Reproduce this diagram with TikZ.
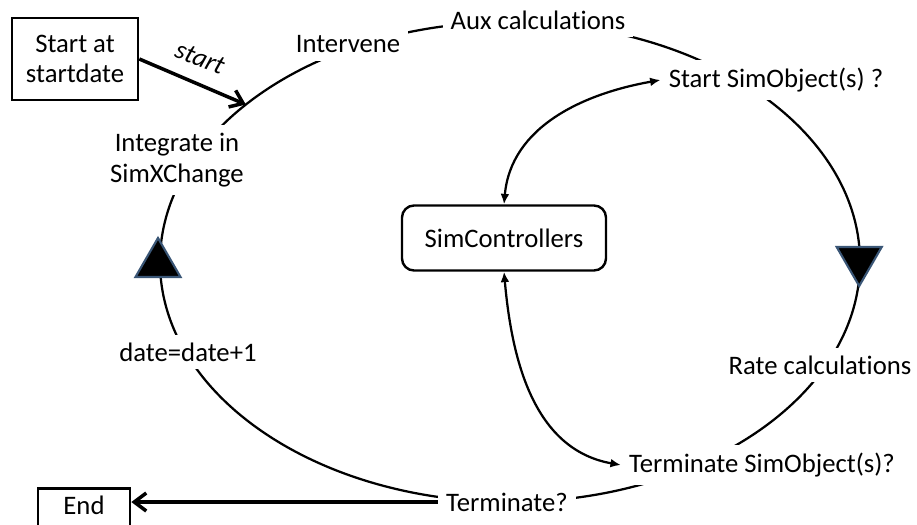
\documentclass[tikz,border=0pt]{standalone}
\usepackage{fontspec}
\setmainfont{Carlito}[Ligatures=NoCommon]
\usepackage{tikz}
\usetikzlibrary{shapes.geometric,positioning,calc}
\usetikzlibrary{arrows.meta}
\definecolor{triblue}{RGB}{58,86,118}

\begin{document}
\begin{tikzpicture}[>={Latex[length=2.6mm,width=2.2mm]}, font=\fontsize{19}{21.5}\selectfont, looptext/.style={fill=white, inner sep=0.2cm, align=center}, box/.style={draw, line width=1.9pt, align=center}, cycle/.style={line width=1.6pt}, heavy/.style={line width=2.5pt, -{Straight Barb[length=3mm,width=4.5mm]}}, marker/.style={regular polygon, regular polygon sides=3, fill=black, draw=triblue, line width=1.5pt, minimum size=1.3cm, inner sep=0pt}]
				\useasboundingbox (0,0) rectangle (22.925,-13.1);

				% Loop

				\coordinate (c) at (12.75,-6.55);
				\draw[cycle] (c) ellipse (8.75 and 6);
				\coordinate (hit) at ($ (c) +(139:8.75 and 6) $);

				% Nodes

				\node [box, minimum width=3.15cm, minimum height=2.05cm] (begin) at (1.875,-1.475) {Start at\\startdate};
				\node [rotate=-22, inner sep=0pt] (startlbl) at (5.0,-1.45) {\textit{start}};
				\node [looptext] (intervene) at (8.7,-1.1) {Intervene};
				\node [looptext] (aux) at (13.45,-0.5) {Aux calculations};
				\node [looptext] (startobj) at (19.4,-2.0) {Start SimObject(s) ?};
				\node [box, rounded corners=0.3cm, line width=1.7pt, minimum width=5.1cm, minimum height=1.625cm] (ctrl) at (12.6,-5.95) {SimControllers};
				\node [marker, shape border rotate=180] (down) at (21.48,-6.5) {};
				\node [looptext] (rate) at (20.5,-9.125) {Rate calculations};
				\node [looptext] (termobj) at (19.05,-11.625) {Terminate SimObject(s)?};
				\node [looptext] (term) at (12.675,-12.55) {Terminate?};
				\node [box, anchor=north, minimum width=2.3cm, text height=0.45cm, text depth=0.8cm, inner ysep=0.2cm] (finish) at (2.1,-12.175) {End};
				\node [looptext] (date) at (4.7,-8.8) {date=date+1};
				\node [marker] (up) at (3.95,-6.6) {};
				\node [looptext] (integrate) at (4.425,-4.0) {Integrate in\\SimXChange};

				% Arrows

				\draw[heavy] (begin.east) -- (hit);
				\draw[heavy] (term.west) -- (term.west -| finish.east);
				\draw[cycle, <->] (ctrl.north) to[out=85, in=190] (startobj.west);
				\draw[cycle, <->] (ctrl.south) to[out=-85, in=170] (termobj.west);
			\end{tikzpicture}
\end{document}
